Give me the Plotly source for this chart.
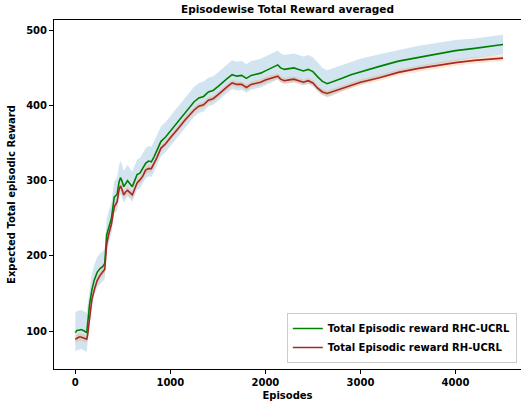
import plotly.graph_objects as go

episodes = [0, 20, 40, 60, 80, 100, 120, 130, 150, 175, 200, 230, 260, 290, 310, 330, 350, 380,
            410, 440, 460, 475, 490, 510, 530, 550, 575, 600, 625, 650, 680, 710, 740, 770, 800,
            830, 860, 900, 950, 1000, 1050, 1100, 1150, 1200, 1250, 1300, 1350, 1400, 1450, 1500,
            1550, 1600, 1650, 1700, 1750, 1800, 1850, 1900, 1950, 2000, 2050, 2100, 2130, 2160,
            2200, 2250, 2300, 2350, 2400, 2450, 2500, 2550, 2600, 2650, 2700, 2800, 2900, 3000,
            3200, 3400, 3600, 3800, 4000, 4200, 4400, 4500]

rhc_mean = [98, 101, 101, 102, 101, 100, 98, 110, 135, 155, 168, 178, 183, 186, 190, 228, 238, 250,
            278, 282, 298, 304, 300, 292, 296, 300, 296, 292, 300, 308, 310, 316, 323, 326, 325,
            332, 341, 352, 358, 366, 374, 382, 390, 398, 405, 410, 412, 418, 420, 425,
            431, 436, 441, 439, 440, 436, 440, 441, 443, 446, 449, 452, 454, 450,
            448, 449, 450, 448, 446, 448, 445, 438, 432, 429, 431, 436, 441, 445,
            452, 459, 464, 469, 473, 476, 479, 481]

rh_mean = [89, 91, 92, 92, 91, 91, 89, 95, 120, 142, 155, 167, 174, 178, 182, 215, 228, 242,
           265, 272, 288, 293, 289, 281, 285, 287, 284, 281, 289, 297, 301, 306, 314, 316, 316,
           323, 331, 343, 349, 357, 364, 372, 380, 387, 394, 399, 401, 407, 409, 414,
           420, 425, 430, 428, 428, 424, 428, 429, 431, 434, 436, 438, 439, 435,
           433, 434, 435, 433, 431, 433, 430, 423, 418, 416, 418, 422, 427, 431,
           437, 444, 449, 453, 457, 460, 462, 463]

rhc_std = [26, 26, 26, 26, 26, 26, 26, 25, 22, 21, 20, 20, 20, 20, 20, 21, 21, 21,
           21, 22, 22, 22, 22, 21, 21, 21, 20, 20, 20, 20, 20, 20, 20, 20, 20,
           20, 20, 20, 20, 20, 20, 20, 20, 20, 20, 20, 20, 19, 19, 19,
           19, 19, 19, 19, 19, 19, 19, 19, 19, 19, 19, 19, 19, 19,
           19, 19, 19, 19, 19, 19, 19, 19, 18, 18, 18, 17, 17, 17,
           16, 15, 15, 14, 14, 13, 13, 13]

rh_std = [5, 5, 5, 5, 5, 5, 5, 5, 5, 5, 5, 5, 5, 5, 5, 5, 5, 5,
          5, 5, 5, 5, 5, 5, 5, 5, 5, 5, 5, 5, 5, 5, 5, 5, 5,
          4, 4, 4, 4, 4, 4, 4, 4, 4, 4, 4, 4, 4, 4, 4,
          4, 4, 4, 4, 4, 4, 4, 4, 4, 4, 4, 4, 4, 4,
          4, 4, 4, 4, 4, 4, 4, 4, 4, 4, 4, 4, 4, 4,
          4, 4, 4, 4, 4, 4, 4, 4]

series_names = ["Total Episodic reward RHC-UCRL", "Total Episodic reward RH-UCRL"]
x_ticks = [0, 1000, 2000, 3000, 4000]
y_ticks = [100, 200, 300, 400, 500]

FONT = "DejaVu Sans"
fig = go.Figure()

def band(mean, std, color):
    lo = [m - s for m, s in zip(mean, std)]
    hi = [m + s for m, s in zip(mean, std)]
    fig.add_trace(go.Scatter(x=episodes, y=lo, mode="lines", line=dict(width=0),
                             showlegend=False, hoverinfo="skip"))
    fig.add_trace(go.Scatter(x=episodes, y=hi, mode="lines", line=dict(width=0),
                             fill="tonexty", fillcolor=color, showlegend=False, hoverinfo="skip"))

band(rhc_mean, rhc_std, "rgba(31,119,180,0.2)")
band(rh_mean, rh_std, "rgba(255,127,14,0.2)")

fig.add_trace(go.Scatter(x=episodes, y=rhc_mean, mode="lines", name=f"<b>{series_names[0]}</b>",
                         line=dict(color="#008000", width=1.6)))
fig.add_trace(go.Scatter(x=episodes, y=rh_mean, mode="lines", name=f"<b>{series_names[1]}</b>",
                         line=dict(color="#a82828", width=1.6)))

fig.update_layout(
    width=521, height=409,
    margin=dict(l=54, r=0, t=20, b=40),
    paper_bgcolor="white", plot_bgcolor="white",
    font=dict(family=FONT, size=10, color="black"),
    title=dict(text="<b>Episodewise Total Reward averaged</b>", x=0.5, xref="paper",
               y=0.985, yanchor="top", font=dict(size=10.5, family=FONT)),
    legend=dict(x=0.991, y=0.017, xanchor="right", yanchor="bottom", traceorder="normal",
                bgcolor="rgba(255,255,255,0.85)", bordercolor="#cccccc", borderwidth=1,
                font=dict(size=10, family=FONT), tracegroupgap=0, itemwidth=30),
    showlegend=True,
)

fig.update_xaxes(range=[-224, 4689], tickvals=x_ticks,
                 ticktext=[f"<b>{v}</b>" for v in x_ticks],
                 showline=True, linecolor="black", linewidth=1, mirror=True,
                 ticks="outside", ticklen=4, tickcolor="black", showgrid=False, zeroline=False,
                 title=dict(text="<b>Episodes</b>", standoff=4, font=dict(size=10)))
fig.update_yaxes(range=[49.45, 513.7], tickvals=y_ticks,
                 ticktext=[f"<b>{v}</b>" for v in y_ticks],
                 showline=True, linecolor="black", linewidth=1, mirror=False,
                 ticks="outside", ticklen=4, tickcolor="black", showgrid=False, zeroline=False,
                 title=dict(text="<b>Expected Total episodic Reward</b>", standoff=8, font=dict(size=10)))

fig.write_html("out.html")
